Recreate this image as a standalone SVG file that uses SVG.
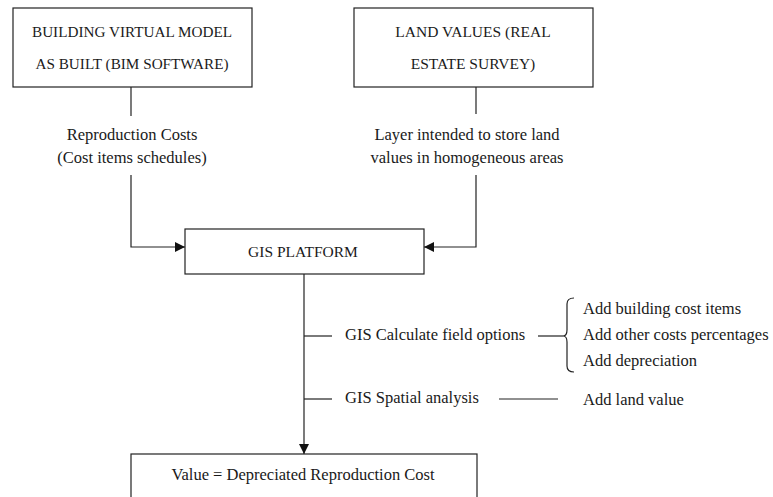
<svg xmlns="http://www.w3.org/2000/svg" width="773" height="497" viewBox="0 0 773 497">
<style>
.box{fill:#fff;stroke:#222;stroke-width:1.2}
.ln{fill:none;stroke:#222;stroke-width:1.2}
text{font-family:"Liberation Serif","Times New Roman",serif;font-size:16.5px;fill:#1a1a1a}
.cap{font-size:15.5px}
.c{text-anchor:middle}
</style>
<defs>
<marker id="ah" viewBox="0 0 10 10" refX="10" refY="5" markerWidth="10" markerHeight="10" markerUnits="userSpaceOnUse" orient="auto">
<path d="M0,0 L10,5 L0,10 Z" fill="#111"/>
</marker>
</defs>
<rect width="773" height="497" fill="#fff"/>
<g id="connectors">
<line class="ln" x1="131" y1="87" x2="131" y2="116"/>
<polyline class="ln" points="131,175 131,247 185,247" marker-end="url(#ah)"/>
<line class="ln" x1="476" y1="87" x2="476" y2="114"/>
<polyline class="ln" points="476,175 476,247 424,247" marker-end="url(#ah)"/>
<line class="ln" x1="304" y1="265" x2="304" y2="454" marker-end="url(#ah)"/>
<line class="ln" x1="304" y1="336" x2="332" y2="336"/>
<line class="ln" x1="304" y1="399" x2="332" y2="399"/>
<line class="ln" x1="538" y1="336" x2="563" y2="336"/>
<path class="ln" d="M574,298 Q567,298 567,304 L567,330 Q567,336 563,336 Q567,336 567,342 L567,366 Q567,372 574,372"/>
<line class="ln" x1="499" y1="399" x2="558" y2="399"/>
</g>
<g id="node-bim">
<rect class="box" x="13" y="8" width="239" height="79"/>
<text class="c cap" x="132" y="37" textLength="200" lengthAdjust="spacingAndGlyphs">BUILDING VIRTUAL MODEL</text>
<text class="c cap" x="132" y="69" textLength="193" lengthAdjust="spacingAndGlyphs">AS BUILT  (BIM SOFTWARE)</text>
</g>
<g id="node-land">
<rect class="box" x="354" y="8" width="239" height="79"/>
<text class="c cap" x="473" y="37">LAND VALUES (REAL</text>
<text class="c cap" x="473" y="69">ESTATE SURVEY)</text>
</g>
<g id="label-reproduction">
<text class="c" x="132" y="140">Reproduction Costs</text>
<text class="c" x="132" y="163">(Cost items schedules)</text>
</g>
<g id="label-layer">
<text class="c" x="467" y="140">Layer intended to store land</text>
<text class="c" x="467" y="163">values in homogeneous areas</text>
</g>
<g id="node-gis">
<rect class="box" x="185" y="229" width="239" height="45"/>
<text class="c cap" x="303" y="257">GIS PLATFORM</text>
</g>
<g id="label-calc">
<text x="345" y="340">GIS Calculate field options</text>
</g>
<g id="label-spatial">
<text x="345" y="403">GIS Spatial analysis</text>
</g>
<g id="items">
<text x="583" y="314">Add building cost items</text>
<text x="583" y="340">Add other costs percentages</text>
<text x="583" y="366">Add depreciation</text>
<text x="583" y="405">Add land value</text>
</g>
<g id="node-value">
<rect class="box" x="131" y="454" width="346" height="60"/>
<text class="c" x="303" y="480">Value = Depreciated Reproduction Cost</text>
</g>
</svg>
